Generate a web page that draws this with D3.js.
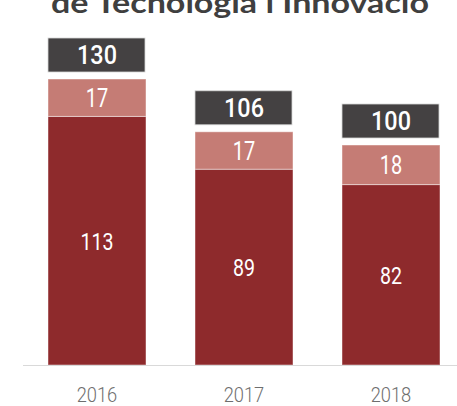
<!DOCTYPE html>
<html>
<head>
<meta charset="utf-8">
<script src="https://cdn.jsdelivr.net/npm/d3@7"></script>
<style>
  html, body { margin: 0; padding: 0; background: #fff; }
  svg { display: block; }
</style>
</head>
<body>
<div id="chart"></div>
<script>
var width = 457;
var height = 406;

var years = ["2016", "2017", "2018"];
var baseValues = [113, 89, 82];
var topValues = [17, 17, 18];
var totals = [130, 106, 100];
var titleText = "de Tecnologia i Innovació";

var darkRed = "#8e2a2c";
var lightRed = "#c57c75";
var boxColor = "#444142";

var svg = d3.select("#chart")
    .append("svg")
    .attr("width", width)
    .attr("height", height);

var x = d3.scaleBand()
    .domain(years)
    .range([23.5, 464.5])
    .paddingInner(1 / 3)
    .paddingOuter(1 / 6);

var y = d3.scaleLinear()
    .domain([0, 150])
    .range([365, 35]);

// title, cut off at the top like the source
svg.append("text")
    .attr("x", 240)
    .attr("y", 12.5)
    .attr("text-anchor", "middle")
    .attr("textLength", 378)
    .attr("lengthAdjust", "spacingAndGlyphs")
    .style("font-family", "Lato")
    .style("font-weight", "bold")
    .style("font-size", "29px")
    .style("fill", "#3f3f3f")
    .text(titleText);

var data = years.map(function(d, i) {
    return {year: d, base: baseValues[i], top: topValues[i], total: totals[i]};
});

function cx(d) { return x(d.year) + x.bandwidth() / 2; }

var bar = svg.selectAll(".bar")
    .data(data)
    .enter().append("g")
    .attr("class", "bar");

// lower segment
bar.append("rect")
    .attr("x", function(d) { return x(d.year); })
    .attr("y", function(d) { return y(d.base); })
    .attr("width", x.bandwidth())
    .attr("height", function(d) { return y(0) - y(d.base); })
    .style("fill", darkRed)
    .style("stroke", "rgba(255,255,255,0.45)")
    .style("stroke-width", 1);

// upper segment
bar.append("rect")
    .attr("x", function(d) { return x(d.year); })
    .attr("y", function(d) { return y(d.base + d.top); })
    .attr("width", x.bandwidth())
    .attr("height", function(d) { return y(d.base) - y(d.base + d.top); })
    .style("fill", lightRed)
    .style("stroke", "rgba(255,255,255,0.45)")
    .style("stroke-width", 1);

// narrow labels: roboto squeezed horizontally
bar.append("text")
    .attr("transform", function(d) {
        return "translate(" + cx(d) + "," + ((y(0) + y(d.base)) / 2) + ") scale(0.8,1)";
    })
    .attr("dy", "0.36em")
    .attr("text-anchor", "middle")
    .style("font-family", "Roboto")
    .style("font-size", "24.5px")
    .style("fill", "#fff")
    .text(function(d) { return d.base; });

bar.append("text")
    .attr("transform", function(d) {
        return "translate(" + cx(d) + "," + ((y(d.base) + y(d.base + d.top)) / 2) + ") scale(0.8,1)";
    })
    .attr("dy", "0.36em")
    .attr("text-anchor", "middle")
    .style("font-family", "Roboto")
    .style("font-size", "25px")
    .style("fill", "#fff")
    .text(function(d) { return d.top; });

// total boxes
bar.append("rect")
    .attr("x", function(d) { return x(d.year); })
    .attr("y", function(d) { return y(d.total) - 41; })
    .attr("width", x.bandwidth() - 1)
    .attr("height", 34)
    .style("fill", boxColor)
    .style("stroke", "#d8d8d8")
    .style("stroke-width", 0.8);

bar.append("text")
    .attr("transform", function(d) {
        return "translate(" + cx(d) + "," + (y(d.total) - 24) + ") scale(0.9,1)";
    })
    .attr("dy", "0.36em")
    .attr("text-anchor", "middle")
    .style("font-family", "Roboto")
    .style("font-weight", 500)
    .style("font-size", "26px")
    .style("fill", "#fff")
    .text(function(d) { return d.total; });

// x axis
var xAxis = svg.append("g")
    .attr("class", "axis axis--x")
    .attr("transform", "translate(0," + y(0) + ")")
    .call(d3.axisBottom(x).tickSize(0).tickPadding(0));

xAxis.select(".domain")
    .attr("d", "M23,0.5H457")
    .style("stroke", "#d9d9d9")
    .style("stroke-width", 1.2);

xAxis.selectAll(".tick text")
    .attr("y", 0)
    .attr("dy", 0)
    .attr("transform", "translate(0,37) scale(0.87,1)")
    .style("font-family", "Roboto")
    .style("font-weight", 300)
    .style("font-size", "21px")
    .style("fill", "#6e6e6e");
</script>
</body>
</html>
